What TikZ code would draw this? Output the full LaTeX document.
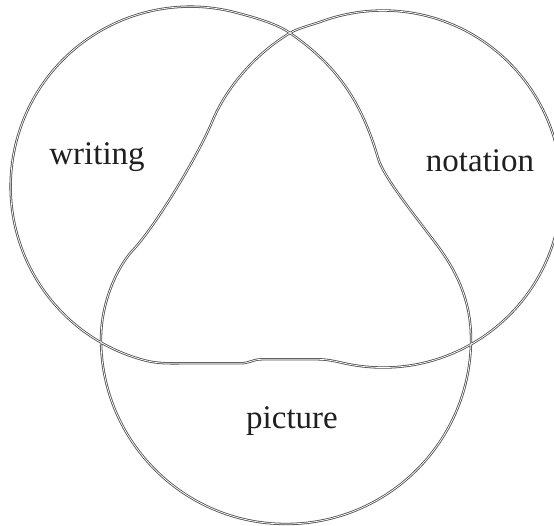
\documentclass[tikz,border=0pt]{standalone}
\usepackage{fontspec}
\setmainfont{Liberation Serif}
\begin{document}
\begin{tikzpicture}[x=1pt,y=-1pt,
  dl/.style={draw=black!70, line width=0.8pt, double=white, double distance=0.75pt, line join=round},
  lbl/.style={anchor=base, inner sep=0pt, font=\fontsize{33}{39}\selectfont, text=black!88}]
\useasboundingbox (0,0) rectangle (554,526);
\coordinate (P1) at (290,33);
% one closed outline: left circle, wavy bottom, right circle, inner triangle, picture circle
\draw[dl] (P1) .. controls (276,23.3) and (254.4,17.5) .. (237,12.8)
  arc[start angle=-75, end angle=-255, radius=179.8]
  .. controls (158,364) and (170,363.3) .. (185,363.3)
  -- (240,363.3) .. controls (250,363.3) and (252,359.4) .. (262,359.3)
  -- (318,359.3) .. controls (330,359.3) and (340,362.7) .. (352,364.8)
  arc[start angle=100, end angle=-110, radius=178.5]
  .. controls (312.6,24.7) and (298.6,27.9) .. (P1)
  .. controls (255.7,53.6) and (226.4,87) .. (212,122)
  .. controls (198.7,154.2) and (156.8,224.5) .. (133,250)
  .. controls (116,268.3) and (101,304) .. (101,339)
  arc[start angle=180, end angle=0, radius=185]
  .. controls (471,299) and (455,269) .. (437,245)
  .. controls (413,213) and (383.6,177.2) .. (378,158)
  .. controls (361.8,102.3) and (337.6,66) .. (P1)
  -- cycle;
\node[lbl] (writing) at (97,165) {writing};
\node[lbl] (notation) at (480,172) {notation};
\node[lbl] (picture) at (292,428) {picture};
\end{tikzpicture}
\end{document}
